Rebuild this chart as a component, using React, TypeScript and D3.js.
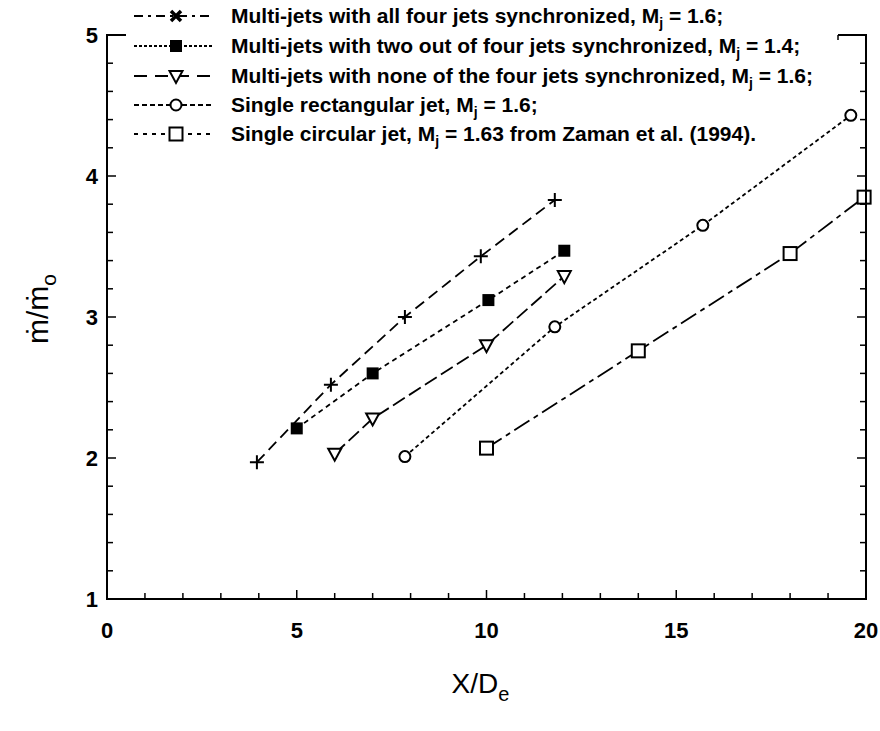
import React from "react";
import * as d3 from "d3";

const crossX = [3.95, 5.9, 7.85, 9.85, 11.8];
const crossY = [1.97, 2.52, 3.0, 3.43, 3.83];
const filledX = [5.0, 7.0, 10.05, 12.05];
const filledY = [2.21, 2.6, 3.12, 3.47];
const triX = [6.0, 7.0, 10.0, 12.05];
const triY = [2.03, 2.28, 2.8, 3.29];
const circX = [7.85, 11.8, 15.7, 19.6];
const circY = [2.01, 2.93, 3.65, 4.43];
const sqX = [10.0, 14.0, 18.0, 19.95];
const sqY = [2.07, 2.76, 3.45, 3.85];

const xTicks = [0, 5, 10, 15, 20];
const yTicks = [1, 2, 3, 4, 5];

const legendLabels = [
  ["Multi-jets with all four jets synchronized, M", "j", " = 1.6;"],
  ["Multi-jets with two out of four jets synchronized, M", "j", " = 1.4;"],
  ["Multi-jets with none of the four jets synchronized, M", "j", " = 1.6;"],
  ["Single rectangular jet, M", "j", " = 1.6;"],
  ["Single circular jet, M", "j", " = 1.63 from Zaman et al. (1994)."],
];

const FONT = "'Liberation Sans', Arial, Helvetica, sans-serif";

type Kind = "plus" | "filled" | "tri" | "circ" | "sq";

function Marker({ kind, cx, cy, legend }: { kind: Kind; cx: number; cy: number; legend?: boolean }) {
  if (kind === "plus") {
    if (legend) {
      return (
        <path d={`M${cx - 5},${cy - 5}L${cx + 5},${cy + 5}M${cx + 5},${cy - 5}L${cx - 5},${cy + 5}`} stroke="#000" strokeWidth={3.5} />
      );
    }
    return <path d={`M${cx - 7},${cy}H${cx + 7}M${cx},${cy - 7}V${cy + 7}`} stroke="#000" strokeWidth={2} />;
  }
  if (kind === "filled") return <rect x={cx - 6} y={cy - 6} width={12} height={12} fill="#000" />;
  if (kind === "tri")
    return (
      <path d={`M${cx - 6.5},${cy - 5}L${cx + 6.5},${cy - 5}L${cx},${cy + 7}Z`} fill="#fff" stroke="#000" strokeWidth={2} />
    );
  if (kind === "circ") return <circle cx={cx} cy={cy} r={5.5} fill="#fff" stroke="#000" strokeWidth={2} />;
  return <rect x={cx - 6.5} y={cy - 6.5} width={13} height={13} fill="#fff" stroke="#000" strokeWidth={2} />;
}

export default function App() {
  const W = 880;
  const H = 731;
  const x = d3.scaleLinear().domain([0, 20]).range([107, 866]);
  const y = d3.scaleLinear().domain([1, 5]).range([599, 35]);

  const series: { xs: number[]; ys: number[]; kind: Kind; dash: string; legDash: string }[] = [
    { xs: crossX, ys: crossY, kind: "plus", dash: "11,6", legDash: "9,5,3,5" },
    { xs: filledX, ys: filledY, kind: "filled", dash: "5,4", legDash: "3,2" },
    { xs: triX, ys: triY, kind: "tri", dash: "14,5", legDash: "13,8" },
    { xs: circX, ys: circY, kind: "circ", dash: "4,3", legDash: "5,3" },
    { xs: sqX, ys: sqY, kind: "sq", dash: "18,5,5,5", legDash: "4,5" },
  ];

  const line = d3
    .line<[number, number]>()
    .x((d) => x(d[0]))
    .y((d) => y(d[1]));

  const xMinor = d3.range(0, 21, 1);
  const yMinor = d3.range(1, 5.001, 0.2);

  const [x0, x1] = x.range();
  const [yb, yt] = y.range();

  const legRowY = [16, 46, 76, 105, 134];

  return (
    <svg width={W} height={H} style={{ position: "absolute", left: 0, top: 0, background: "#fff" }} fontFamily={FONT}>
      <rect width={W} height={H} fill="#fff" />
      {/* data lines */}
      {series.map((s, i) => (
        <path
          key={"l" + i}
          d={line(s.xs.map((v, j) => [v, s.ys[j]]) as [number, number][]) || ""}
          fill="none"
          stroke="#000"
          strokeWidth={1.8}
          strokeDasharray={s.dash}
        />
      ))}
      {series.map((s, i) =>
        s.xs.map((v, j) => <Marker key={"m" + i + "-" + j} kind={s.kind} cx={x(v)} cy={y(s.ys[j])} />)
      )}

      {/* frame (top border interrupted by legend) */}
      <path
        d={`M126,${yt}H${x0}V${yb}H${x1}V${yt}H838`}
        fill="none"
        stroke="#000"
        strokeWidth={2}
      />
      <line x1={838} x2={838} y1={yt} y2={yt + 5} stroke="#000" strokeWidth={1.5} />
      {/* ticks */}
      {xMinor.map((t) => {
        const len = t % 5 === 0 ? 9 : 6;
        return <line key={"xt" + t} x1={x(t)} x2={x(t)} y1={yb} y2={yb - len} stroke="#000" strokeWidth={1.5} />;
      })}
      {yMinor.map((t, i) => {
        const len = i % 5 === 0 ? 9 : 6;
        return (
          <g key={"yt" + i}>
            <line x1={x0} x2={x0 + len} y1={y(t)} y2={y(t)} stroke="#000" strokeWidth={1.5} />
            <line x1={x1} x2={x1 - len} y1={y(t)} y2={y(t)} stroke="#000" strokeWidth={1.5} />
          </g>
        );
      })}

      {/* tick labels */}
      {xTicks.map((t) => (
        <text key={"xl" + t} x={x(t)} y={yb + 39} textAnchor="middle" fontSize={22} fontWeight="bold">
          {t}
        </text>
      ))}
      {yTicks.map((t) => (
        <text key={"yl" + t} x={x0 - 9} y={y(t) + 8} textAnchor="end" fontSize={22} fontWeight="bold">
          {t}
        </text>
      ))}

      {/* axis titles */}
      <text x={(x0 + x1) / 2 - 6} y={693} textAnchor="middle" fontSize={28}>
        X/D
        <tspan fontSize={20} dy={8}>e</tspan>
      </text>
      <text transform={`translate(48,${(yb + yt) / 2 - 8}) rotate(-90)`} textAnchor="middle" fontSize={30}>
        ṁ/ṁ
        <tspan fontSize={21} dy={8}>o</tspan>
      </text>

      {/* legend */}
      {series.map((s, i) => (
        <g key={"lg" + i}>
          <line x1={134} x2={214} y1={legRowY[i]} y2={legRowY[i]} stroke="#000" strokeWidth={2} strokeDasharray={s.legDash} />
          <Marker kind={s.kind} cx={176} cy={legRowY[i]} legend />
          <text x={231} y={legRowY[i] + 7} fontSize={21} fontWeight="bold">
            {legendLabels[i][0]}
            <tspan fontSize={14} dy={5}>{legendLabels[i][1]}</tspan>
            <tspan dy={-5}>{legendLabels[i][2]}</tspan>
          </text>
        </g>
      ))}
    </svg>
  );
}
